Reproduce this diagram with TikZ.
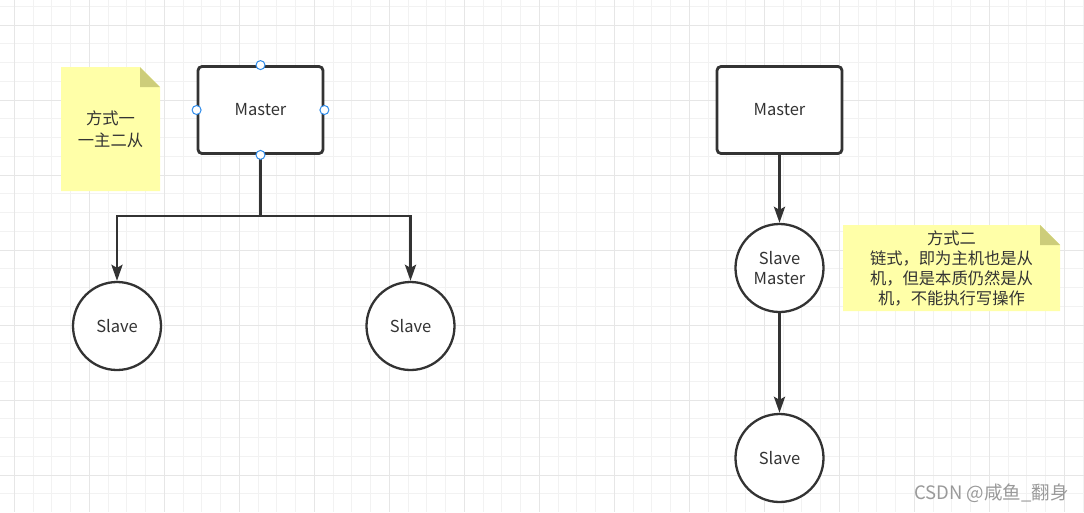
\documentclass[tikz,border=0pt]{standalone}
\usepackage{fontspec}
\setmainfont{Noto Sans CJK SC}
\usetikzlibrary{arrows.meta}
\definecolor{ink}{HTML}{333333}
\definecolor{gminor}{HTML}{F2F2F2}
\definecolor{gmajor}{HTML}{E6E6E6}
\definecolor{noteY}{HTML}{FFFFA8}
\definecolor{noteF}{HTML}{CDCD7A}
\definecolor{handle}{HTML}{2F8CEB}
\definecolor{wm}{HTML}{9A9A9A}
\tikzset{
  box/.style={draw=ink,line width=2.8pt,fill=white,rounded corners=4pt,minimum width=125pt,minimum height=87pt,inner sep=0pt,text=ink,font=\fontsize{16.5}{19}\selectfont},
  ring/.style={draw=ink,line width=2.3pt,fill=white,circle,minimum size=88pt,inner sep=0pt,text=ink,align=center,font=\fontsize{16.5}{20}\selectfont},
  conn/.style={draw=ink,line width=2.8pt},
  arr/.style={conn,-{Stealth[length=16pt,width=11pt,inset=3pt]}},
  hdl/.style={draw=handle,fill=white,line width=1pt,circle,minimum size=9pt,inner sep=0pt},
  notetext/.style={text=ink,align=center,font=\fontsize{16.3}{20}\selectfont},
}
\begin{document}
\begin{tikzpicture}[x=1pt,y=-1pt]
\fill[white] (0,0) rectangle (1084,512);
\useasboundingbox (0,0) rectangle (1084,512);
% grid
\foreach \k in {0,...,57} {\draw[gminor,line width=1pt] ({14.3+18.75*\k},0) -- ({14.3+18.75*\k},512);}
\foreach \k in {0,...,26} {\draw[gminor,line width=1pt] (0,{6.25+18.75*\k}) -- (1084,{6.25+18.75*\k});}
\foreach \k in {0,...,14} {\draw[gmajor,line width=1pt] ({14.3+75*\k},0) -- ({14.3+75*\k},512);}
\foreach \k in {0,...,6} {\draw[gmajor,line width=1pt] (0,{25+75*\k}) -- (1084,{25+75*\k});}
% note 1
\fill[noteY] (61,67) -- (140,67) -- (160,87) -- (160,191) -- (61,191) -- cycle;
\fill[noteF] (140,67) -- (160,87) -- (140,87) -- cycle;
\node[notetext,font=\fontsize{16.3}{22}\selectfont] (n1) at (110.5,129) {方式一\\一主二从};
% note 2
\fill[noteY] (843,225) -- (1040,225) -- (1060,245) -- (1060,311) -- (843,311) -- cycle;
\fill[noteF] (1040,225) -- (1060,245) -- (1040,245) -- cycle;
\node[notetext] (n2) at (951.5,268) {方式二\\链式，即为主机也是从\\机，但是本质仍然是从\\机，不能执行写操作};
% left
\node[box] (m1) at (260.5,110) {Master};
\node[ring] (s1) at (117,326) {Slave};
\node[ring] (s2) at (410.5,326) {Slave};
\coordinate (j) at (260.5,216);
\draw[conn] (m1.south) -- (j);
\draw[arr] (j) -| (s1.north);
\draw[arr] (j) -| (s2.north);
\node[hdl] (h1) at (m1.north) {};
\node[hdl] (h2) at (m1.west) {};
\node[hdl] (h3) at (m1.east) {};
\node[hdl] (h4) at (m1.south) {};
% right
\node[box] (m2) at (779.5,110) {Master};
\node[ring] (s3) at (779.5,268) {Slave\\Master};
\node[ring] (s4) at (779.5,458) {Slave};
\draw[arr] (m2.south) -- (s3.north);
\draw[arr] (s3.south) -- (s4.north);
% watermark
\node[text=wm,font=\fontsize{18.5}{20}\selectfont,anchor=east,inner sep=0pt] (w) at (1069,493) {CSDN @咸鱼\_翻身};
\end{tikzpicture}
\end{document}
